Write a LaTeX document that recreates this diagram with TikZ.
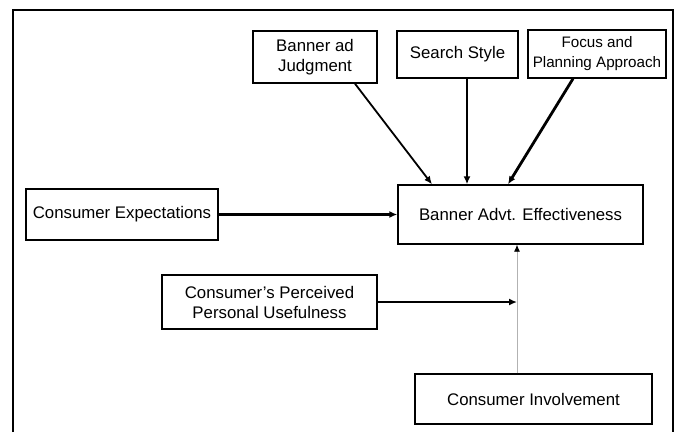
\documentclass[tikz,border=0pt]{standalone}
\usepackage{fontspec}
\setmainfont{Liberation Sans}
\usetikzlibrary{arrows.meta}
\begin{document}
\begin{tikzpicture}[x=1pt,y=-1pt,
  box/.style={draw=black,line width=1.4pt,fill=white,inner sep=0pt,align=center,
    font=\fontsize{16.8}{20}\selectfont},
  link/.style={line width=2.8pt,-{Latex[length=8pt,width=7pt]}},
  thinlink/.style={line width=1.8pt,-{Latex[length=8pt,width=7pt]}},
  grey link/.style={draw=black!30,line width=0.8pt,
    -{Latex[length=7pt,width=6pt,color=black]}}]
  \useasboundingbox (0,0) rectangle (679,432);
  % outer frame, open at the bottom
  \draw[line width=1.6pt] (13,432) -- (13,10) -- (673,10) -- (673,432);

  % factors
  \node[box,minimum width=124pt,minimum height=52pt] (bj) at (315,57)
    {Banner ad\\Judgment};
  \node[box,minimum width=121pt,minimum height=47pt] (ss) at (457.5,54.5)
    {Search Style};
  \node[box,minimum width=138pt,minimum height=48pt,
        font=\fontsize{15.2}{20}\selectfont] (fp) at (597,54)
    {Focus and\\Planning Approach};
  \node[box,minimum width=245pt,minimum height=59pt] (eff) at (520.5,214.5)
    {Banner Advt. Effectiveness};
  \node[box,minimum width=192pt,minimum height=51pt] (ce) at (122,214.5)
    {Consumer Expectations};
  \node[box,minimum width=215pt,minimum height=54pt] (pu) at (269.5,302)
    {Consumer's Perceived\\Personal Usefulness};
  \node[box,minimum width=237pt,minimum height=50pt] (ci) at (533.5,399)
    {Consumer Involvement};

  % influences on effectiveness
  \draw[thinlink] ([xshift=40pt]bj.south) -- ([xshift=-88.5pt]eff.north);
  \draw[link] ([xshift=9.5pt]ss.south) -- ([xshift=-53.5pt]eff.north);
  \draw[link] ([xshift=-24pt]fp.south) -- ([xshift=-12.5pt]eff.north);
  \draw[link] (ce.east) -- (eff.west);

  % involvement and the usefulness path feeding into it
  \coordinate (cit) at ([xshift=-16.5pt]ci.north);
  \draw[grey link] (cit) -- (cit |- eff.south);
  \draw[link] (pu.east) -- (pu.east -| cit);
\end{tikzpicture}
\end{document}
